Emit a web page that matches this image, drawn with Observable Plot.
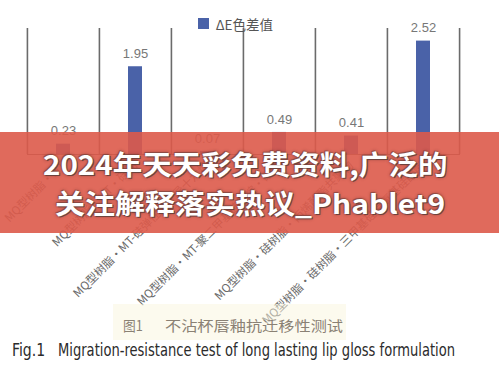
<!DOCTYPE html>
<html><head><meta charset="utf-8">
<script src="https://cdn.jsdelivr.net/npm/d3@7"></script>
<script src="https://cdn.jsdelivr.net/npm/@observablehq/plot@0.6"></script>
<style>
body{margin:0;background:#fff;}
#wrap{position:relative;width:499px;height:369px;overflow:hidden;background:#fff;font-family:"Noto Sans CJK SC",sans-serif;}
#chart{position:absolute;left:0;top:0;}
#legend{position:absolute;left:198px;top:7px;}
#banner{position:absolute;left:0;top:132px;width:499px;height:101px;background:rgba(221,90,74,0.9);}
.fit{position:absolute;white-space:nowrap;line-height:1;transform-origin:0 0;}
.bl{color:#fff;font-weight:bold;font-size:27px;font-family:"Noto Sans CJK SC",sans-serif;
 text-shadow:1px 1px 0 #6e423c,-1px -1px 0 rgba(120,70,65,.6),0 0 3px rgba(70,30,30,.85);}
.c1{color:#8a8174;font-size:14px;font-family:"Noto Sans CJK SC",sans-serif;}
.c2{color:#2b2b2b;font-size:17px;font-family:"Liberation Sans Narrow","DejaVu Sans Condensed","Liberation Sans",sans-serif;}
#capbg{position:absolute;left:113px;top:304px;width:233px;height:36px;background:rgba(250,246,222,0.5);}
</style></head>
<body>
<div id="wrap">
 <div id="chart"></div>
 <div id="legend"></div>
 <div id="banner"></div>
 <div id="capbg"></div>
</div>
<script>
// ---- data ----
const categories = [
  "MQ型树脂·MT",
  "MQ型树脂·MT·硅油",
  "MQ型树脂·MT-硅弹性体·异十六烷",
  "MQ型树脂·MT-聚二甲基硅氧烷·硅油",
  "MQ型树脂·硅树脂·丙烯酸酯共聚物",
  "MQ型树脂·硅树脂·三甲基硅烷氧基硅酸酯"
];
const values = [0.23, 1.95, 0.07, 0.49, 0.41, 2.52];
const valueLabels = ["0.23", "1.95", "0.07", "0.49", "0.41", "2.52"];
const seriesName = "ΔE色差值";
const bannerLines = ["2024年天天彩免费资料,广泛的", "关注解释落实热议_Phablet9"];
const captionZh = ["图1", "不沾杯唇釉抗迁移性测试"];
const captionEn = ["Fig.1", "Migration-resistance test of long lasting lip gloss formulation"];

// ---- styles / layout ----
const barColor = "#4a62a8";
const W = 499, H = 305, mL = 27, mR = 39, mT = 28, mB = 151;
const step = (W - mL - mR) / categories.length;
const data = categories.map((c, i) => ({c, v: values[i], t: valueLabels[i]}));

const chart = Plot.plot({
  width: W, height: H,
  marginLeft: mL, marginRight: mR, marginTop: mT, marginBottom: mB,
  style: {fontFamily: "Noto Sans CJK SC, sans-serif", fontSize: "11.5px", color: "#6a6a6a", background: "transparent", overflow: "visible"},
  x: {domain: categories, paddingInner: 0.8, paddingOuter: 0.4, tickRotate: -45, tickSize: 0, tickPadding: 9, label: null},
  y: {domain: [0, 2.8], axis: null},
  marks: [
    Plot.ruleX(categories, {x: d => d, dx: -step / 2, stroke: "#6b6b6b", strokeWidth: 1.6}),
    Plot.ruleX(categories.slice(-1), {x: d => d, dx: step / 2, stroke: "#6b6b6b", strokeWidth: 1.6}),
    Plot.ruleY([0], {stroke: "#6b6b6b", strokeWidth: 1.2}),
    Plot.barY(data, {x: "c", y: "v", fill: barColor}),
    Plot.text(data, {x: "c", y: "v", text: "t", dy: -13, fill: "#777", fontSize: 13, fontFamily: "Liberation Sans, sans-serif"})
  ]
});
document.getElementById("chart").appendChild(chart);

const leg = Plot.legend({
  color: {type: "ordinal", domain: [seriesName], range: [barColor]},
  swatchSize: 11,
  style: {fontFamily: "Noto Sans CJK SC, sans-serif", fontSize: "13.5px", color: "#555", background: "transparent"}
});
document.getElementById("legend").appendChild(leg);

// ---- fitted text helpers ----
function place(parent, text, cls, x0, x1, cy) {
  const el = document.createElement("div");
  el.className = "fit " + cls;
  el.textContent = text;
  parent.appendChild(el);
  const w = el.offsetWidth, h = el.offsetHeight;
  el.style.left = x0 + "px";
  el.style.top = (cy - h / 2) + "px";
  el.style.transform = `scaleX(${(x1 - x0) / w})`;
}
const wrap = document.getElementById("wrap");
const banner = document.getElementById("banner");
place(banner, bannerLines[0], "bl", 43, 448, 163 - 132);
place(banner, bannerLines[1], "bl", 55, 445, 202 - 132);
place(wrap, captionZh[0], "c1", 123, 143, 325);
place(wrap, captionZh[1], "c1", 165, 343, 325);
place(wrap, captionEn[0], "c2", 12, 45, 350);
place(wrap, captionEn[1], "c2", 58, 455, 350);
</script>
</body></html>
